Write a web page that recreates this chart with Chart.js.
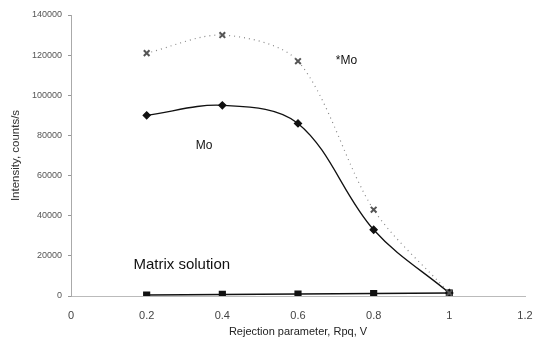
<!DOCTYPE html>
<html>
<head>
<meta charset="utf-8">
<script src="https://cdn.jsdelivr.net/npm/chart.js@4"></script>
<style>
  html, body { margin: 0; padding: 0; background: #fff; }
  #wrap { width: 536px; height: 339px; }
</style>
</head>
<body>
<div id="wrap"><canvas id="myChart" width="536" height="339"></canvas></div>
<script>
/*************** data ***************/
const xValues = [0.2, 0.4, 0.6, 0.8, 1];
const moSeries = [90000, 95000, 86000, 33000, 1500];
const moStarSeries = [121000, 130000, 117000, 43000, 1500];
const matrixSeries = [500, 800, 1000, 1200, 1500];

const xTickValues = [0, 0.2, 0.4, 0.6, 0.8, 1, 1.2];
const yTickValues = [0, 20000, 40000, 60000, 80000, 100000, 120000, 140000];

// text labels placed in data units
const notes = [
  { text: "Mo", x: 0.33, y: 75000, size: 12 },
  { text: "*Mo", x: 0.7, y: 117000, size: 12 },
  { text: "Matrix solution", x: 0.165, y: 15500, size: 15 }
];

function toPoints(ys) {
  return xValues.map((x, i) => ({ x: x, y: ys[i] }));
}

/*************** plugin for the in-plot labels ***************/
const notesPlugin = {
  id: "notes",
  afterDatasetsDraw(chart) {
    const c = chart.ctx;
    const sx = chart.scales.x, sy = chart.scales.y;
    c.save();
    c.fillStyle = "#111";
    c.textBaseline = "middle";
    c.textAlign = "left";
    notes.forEach(n => {
      c.font = n.size + "px 'Liberation Sans', Arial, sans-serif";
      c.fillText(n.text, sx.getPixelForValue(n.x), sy.getPixelForValue(n.y));
    });
    c.restore();
  }
};

const ctx = document.getElementById("myChart").getContext("2d");

new Chart(ctx, {
  type: "line",
  data: {
    datasets: [
      {
        label: "*Mo",
        data: toPoints(moStarSeries),
        borderColor: "#888",
        borderWidth: 1.2,
        borderDash: [1, 4],
        pointStyle: "crossRot",
        pointRadius: 4,
        pointBorderWidth: 2,
        pointBorderColor: "#555",
        pointBackgroundColor: "#555",
        tension: 0.3,
        fill: false
      },
      {
        label: "Mo",
        data: toPoints(moSeries),
        borderColor: "#111",
        borderWidth: 1.3,
        pointStyle: "rectRot",
        pointRadius: 3.5,
        pointBackgroundColor: "#111",
        pointBorderColor: "#111",
        tension: 0.35,
        fill: false
      },
      {
        label: "Matrix solution",
        data: toPoints(matrixSeries),
        borderColor: "#111",
        borderWidth: 1.5,
        pointStyle: "rect",
        pointRadius: 4,
        pointBackgroundColor: "#111",
        pointBorderColor: "#111",
        tension: 0,
        fill: false
      }
    ]
  },
  options: {
    responsive: false,
    animation: false,
    layout: { padding: { top: 15, right: 11, left: 0, bottom: 0 } },
    plugins: {
      legend: { display: false },
      tooltip: { enabled: false }
    },
    scales: {
      x: {
        type: "linear",
        min: 0,
        max: 1.2,
        afterBuildTicks: s => { s.ticks = xTickValues.map(v => ({ value: v })); },
        afterFit: s => { s.height = 43; s.paddingLeft = 0; s.paddingRight = 0; },
        grid: { display: false, drawTicks: false },
        border: { display: true, color: "#bbb", dash: [1, 3], width: 1 },
        ticks: {
          padding: 13,
          color: "#444",
          font: { family: "'Liberation Sans', Arial, sans-serif", size: 11 },
          callback: v => String(Math.round(v * 10) / 10)
        },
        title: {
          display: true,
          text: "Rejection parameter, Rpq, V",
          color: "#222",
          padding: { top: 5, bottom: 0 },
          font: { family: "'Liberation Sans', Arial, sans-serif", size: 11 }
        }
      },
      y: {
        min: 0,
        max: 140000,
        afterBuildTicks: s => { s.ticks = yTickValues.map(v => ({ value: v })); },
        afterFit: s => { s.width = 71; },
        grid: { display: true, drawOnChartArea: false, tickLength: 3, color: "#999" },
        border: { display: true, color: "#aaa", dash: [1, 2], width: 1 },
        ticks: {
          padding: 6,
          color: "#555",
          font: { family: "'Liberation Sans', Arial, sans-serif", size: 9 },
          callback: v => String(v)
        },
        title: {
          display: true,
          text: "Intensity, counts/s",
          color: "#333",
          padding: { top: 9, bottom: 0 },
          font: { family: "'Liberation Sans', Arial, sans-serif", size: 11.5 }
        }
      }
    }
  },
  plugins: [notesPlugin]
});
</script>
</body>
</html>
